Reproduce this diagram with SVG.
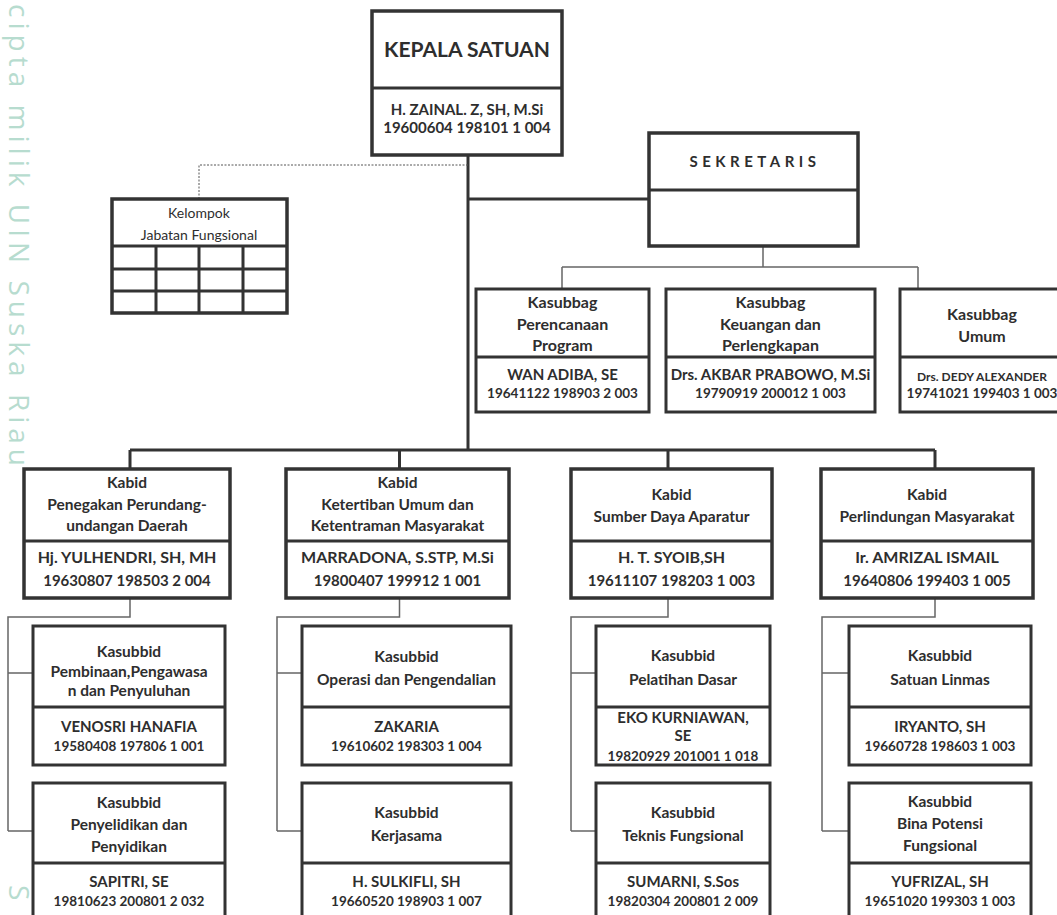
<svg xmlns="http://www.w3.org/2000/svg" width="1057" height="915" viewBox="0 0 1057 915">
<style>
.bx{fill:#fff;stroke:#333;stroke-width:3}
.bk{fill:#fff;stroke:#333;stroke-width:3.5}
.dv{stroke:#333;stroke-width:3;fill:none}
.t{font-family:Lato,"Liberation Sans",sans-serif;font-weight:bold;fill:#2e2e2e;text-anchor:middle}
.r{font-weight:normal;font-size:14px}
.h{font-size:15.5px}
.n{font-size:15px}
.m{font-size:13.5px}
.thin{stroke:#666;stroke-width:1.5;fill:none}
.thick{stroke:#333;stroke-width:3;fill:none}
.wm{font-family:"Open Sans","Noto Sans",sans-serif;font-weight:normal;fill:#b7dccf;font-size:28px}
</style>
<rect width="1057" height="915" fill="#fff"/>
<g id="watermark">
<text class="wm" transform="translate(9,4) rotate(90)" textLength="462" lengthAdjust="spacing">cipta milik UIN Suska Riau</text>
<text class="wm" transform="translate(9,885) rotate(90)">S</text>
</g>
<g id="connectors">
<path class="thick" d="M468,155V450M468,199H649M130,450H935M130,450V469M399.5,450V469M668,450V469M935,450V469"/>
<path d="M468,165H199V199" stroke="#555" stroke-width="1" stroke-dasharray="2,1.5" fill="none"/>
<path class="thin" d="M763,246V267M562,267H918M562,267V289M918,267V289"/>
<path class="thin" d="M130,598V617H8V831M8,673H33M8,831H33"/>
<path class="thin" d="M399.5,598V617H277V831M277,673H302M277,831H302"/>
<path class="thin" d="M668,598V617H571V831M571,673H596M571,831H596"/>
<path class="thin" d="M935,598V617H822V831M822,673H849M822,831H849"/>
</g>
<g id="kepala">
<rect class="bk" x="372" y="11" width="190" height="144"/>
<path class="dv" d="M372,88H562"/>
<text class="t" x="467" y="57" font-size="21">KEPALA SATUAN</text>
<text class="t n" x="467" y="115">H. ZAINAL. Z, SH, M.Si</text>
<text class="t n" x="467" y="133">19600604 198101 1 004</text>
</g>
<g id="kelompok">
<rect class="bk" x="112" y="199" width="175" height="114"/>
<path class="dv" d="M112,246H287M112,269H287M112,291H287M156,246V313M199,246V313M243,246V313"/>
<text class="t r" x="199" y="218">Kelompok</text>
<text class="t r" x="199" y="240">Jabatan Fungsional</text>
</g>
<g id="sekretaris">
<rect class="bk" x="649" y="133" width="209" height="113"/>
<path class="dv" d="M649,190H858"/>
<text class="t" x="755" y="167" font-size="15" letter-spacing="4.5">SEKRETARIS</text>
</g>
<g id="kasubbag-perencanaan">
<rect class="bx" x="476" y="289" width="173" height="123"/>
<path class="dv" d="M476,357H649"/>
<text class="t" x="562.5" y="308" font-size="16">Kasubbag</text>
<text class="t" x="562.5" y="330" font-size="16">Perencanaan</text>
<text class="t" x="562.5" y="351" font-size="16">Program</text>
<text class="t n" x="562.5" y="380">WAN ADIBA, SE</text>
<text class="t m" x="562.5" y="398">19641122 198903 2 003</text>
</g>
<g id="kasubbag-keuangan">
<rect class="bx" x="666" y="289" width="209" height="123"/>
<path class="dv" d="M666,357H875"/>
<text class="t" x="770.5" y="308" font-size="16">Kasubbag</text>
<text class="t" x="770.5" y="330" font-size="16">Keuangan dan</text>
<text class="t" x="770.5" y="351" font-size="16">Perlengkapan</text>
<text class="t n" x="770.5" y="380">Drs. AKBAR PRABOWO, M.Si</text>
<text class="t m" x="770.5" y="398">19790919 200012 1 003</text>
</g>
<g id="kasubbag-umum">
<rect class="bx" x="900" y="289" width="164" height="123"/>
<path class="dv" d="M900,357H1064"/>
<text class="t" x="982" y="320" font-size="16">Kasubbag</text>
<text class="t" x="982" y="342" font-size="16">Umum</text>
<text class="t" x="982" y="381" font-size="12">Drs. DEDY ALEXANDER</text>
<text class="t m" x="982" y="398">19741021 199403 1 003</text>
</g>
<g id="kabid-penegakan">
<rect class="bk" x="24" y="469" width="206" height="129"/>
<path class="dv" d="M24,541H230"/>
<text class="t h" x="127" y="488">Kabid</text>
<text class="t h" x="127" y="510">Penegakan Perundang-</text>
<text class="t h" x="127" y="531">undangan Daerah</text>
<text class="t" x="127" y="563" font-size="16">Hj. YULHENDRI, SH, MH</text>
<text class="t" x="127" y="586" font-size="15">19630807 198503 2 004</text>
</g>
<g id="kabid-ketertiban">
<rect class="bk" x="286" y="469" width="223" height="129"/>
<path class="dv" d="M286,541H509"/>
<text class="t h" x="397.5" y="488">Kabid</text>
<text class="t h" x="397.5" y="510">Ketertiban Umum dan</text>
<text class="t h" x="397.5" y="531">Ketentraman Masyarakat</text>
<text class="t" x="397.5" y="563" font-size="16">MARRADONA, S.STP, M.Si</text>
<text class="t" x="397.5" y="586" font-size="15">19800407 199912 1 001</text>
</g>
<g id="kabid-sdm">
<rect class="bk" x="571" y="469" width="201" height="129"/>
<path class="dv" d="M571,541H772"/>
<text class="t h" x="671.5" y="500">Kabid</text>
<text class="t h" x="671.5" y="522">Sumber Daya Aparatur</text>
<text class="t" x="671.5" y="563" font-size="16">H. T. SYOIB,SH</text>
<text class="t" x="671.5" y="586" font-size="15">19611107 198203 1 003</text>
</g>
<g id="kabid-perlindungan">
<rect class="bk" x="821" y="469" width="212" height="129"/>
<path class="dv" d="M821,541H1033"/>
<text class="t h" x="927" y="500">Kabid</text>
<text class="t h" x="927" y="522">Perlindungan Masyarakat</text>
<text class="t" x="927" y="563" font-size="16">Ir. AMRIZAL ISMAIL</text>
<text class="t" x="927" y="586" font-size="15">19640806 199403 1 005</text>
</g>
<g id="kasubbid-pembinaan">
<rect class="bx" x="33" y="626" width="192" height="139"/>
<path class="dv" d="M33,707H225"/>
<text class="t h" x="129" y="657">Kasubbid</text>
<text class="t h" x="129" y="677">Pembinaan,Pengawasa</text>
<text class="t h" x="129" y="696">n dan Penyuluhan</text>
<text class="t n" x="129" y="732">VENOSRI HANAFIA</text>
<text class="t m" x="129" y="751">19580408 197806 1 001</text>
</g>
<g id="kasubbid-penyelidikan">
<rect class="bx" x="33" y="783" width="192" height="150"/>
<path class="dv" d="M33,863H225"/>
<text class="t h" x="129" y="808">Kasubbid</text>
<text class="t h" x="129" y="830">Penyelidikan dan</text>
<text class="t h" x="129" y="852">Penyidikan</text>
<text class="t n" x="129" y="887">SAPITRI, SE</text>
<text class="t m" x="129" y="906">19810623 200801 2 032</text>
</g>
<g id="kasubbid-operasi">
<rect class="bx" x="302" y="626" width="209" height="139"/>
<path class="dv" d="M302,707H511"/>
<text class="t h" x="406.5" y="662">Kasubbid</text>
<text class="t h" x="406.5" y="685">Operasi dan Pengendalian</text>
<text class="t n" x="406.5" y="732">ZAKARIA</text>
<text class="t m" x="406.5" y="751">19610602 198303 1 004</text>
</g>
<g id="kasubbid-kerjasama">
<rect class="bx" x="302" y="783" width="209" height="150"/>
<path class="dv" d="M302,863H511"/>
<text class="t h" x="406.5" y="818">Kasubbid</text>
<text class="t h" x="406.5" y="841">Kerjasama</text>
<text class="t n" x="406.5" y="887">H. SULKIFLI, SH</text>
<text class="t m" x="406.5" y="906">19660520 198903 1 007</text>
</g>
<g id="kasubbid-pelatihan">
<rect class="bx" x="596" y="626" width="174" height="139"/>
<path class="dv" d="M596,707H770"/>
<text class="t h" x="683" y="661">Kasubbid</text>
<text class="t h" x="683" y="685">Pelatihan Dasar</text>
<text class="t n" x="683" y="723">EKO KURNIAWAN,</text>
<text class="t n" x="683" y="741">SE</text>
<text class="t m" x="683" y="761">19820929 201001 1 018</text>
</g>
<g id="kasubbid-teknis">
<rect class="bx" x="596" y="783" width="174" height="150"/>
<path class="dv" d="M596,863H770"/>
<text class="t h" x="683" y="818">Kasubbid</text>
<text class="t h" x="683" y="841">Teknis Fungsional</text>
<text class="t n" x="683" y="887">SUMARNI, S.Sos</text>
<text class="t m" x="683" y="906">19820304 200801 2 009</text>
</g>
<g id="kasubbid-linmas">
<rect class="bx" x="849" y="626" width="182" height="139"/>
<path class="dv" d="M849,707H1031"/>
<text class="t h" x="940" y="661">Kasubbid</text>
<text class="t h" x="940" y="685">Satuan Linmas</text>
<text class="t n" x="940" y="732">IRYANTO, SH</text>
<text class="t m" x="940" y="751">19660728 198603 1 003</text>
</g>
<g id="kasubbid-bina">
<rect class="bx" x="849" y="783" width="182" height="150"/>
<path class="dv" d="M849,863H1031"/>
<text class="t h" x="940" y="807">Kasubbid</text>
<text class="t h" x="940" y="829">Bina Potensi</text>
<text class="t h" x="940" y="851">Fungsional</text>
<text class="t n" x="940" y="887">YUFRIZAL, SH</text>
<text class="t m" x="940" y="906">19651020 199303 1 003</text>
</g>
</svg>
